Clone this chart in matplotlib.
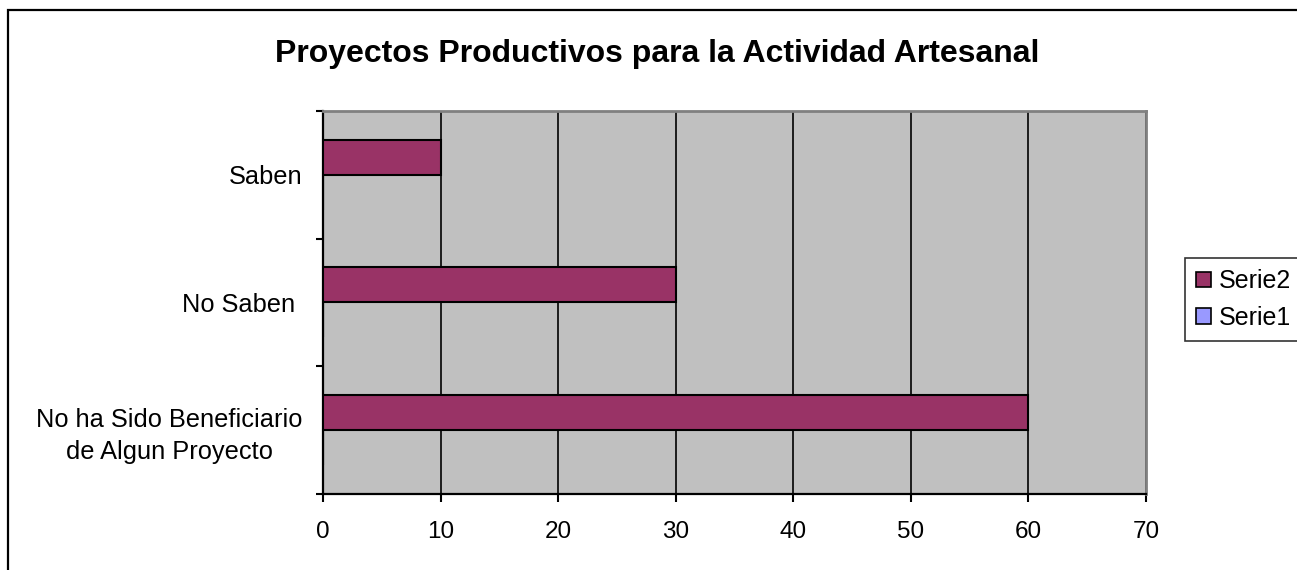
import matplotlib.pyplot as plt
from matplotlib.patches import Patch, Rectangle

plt.rcParams['font.family'] = ['Liberation Sans', 'DejaVu Sans']

# datos
categorias = ["No ha Sido Beneficiario\nde Algun Proyecto", "No Saben ", "Saben"]
serie1 = [0, 0, 0]
serie2 = [60, 30, 10]
ticks_x = [0, 10, 20, 30, 40, 50, 60, 70]

color_s1 = "#9999FF"
color_s2 = "#993366"

fig = plt.figure(figsize=(12.97, 5.70), dpi=100)

# borde del area del grafico
fig.patches.append(Rectangle((8 / 1297, -0.2), 1.5, 1.2 - 10 / 570,
                             transform=fig.transFigure, fill=False,
                             edgecolor="black", linewidth=1.6))

ax = fig.add_axes([323 / 1297, 1 - 493.5 / 570, 823 / 1297, 382.5 / 570])
ax.set_facecolor("#C0C0C0")

alto = 0.275
pos = list(range(len(categorias)))

ax.barh([p - alto / 2 for p in pos], serie1, height=alto, color=color_s1,
        edgecolor="black", linewidth=1.5, zorder=3)
ax.barh([p + alto / 2 for p in pos], serie2, height=alto, color=color_s2,
        edgecolor="black", linewidth=1.5, zorder=3)

ax.set_xlim(0, 70)
ax.set_ylim(-0.5, 2.5)
ax.set_xticks(ticks_x)
ax.set_xticklabels([str(t) for t in ticks_x], fontsize=17.5)
ax.xaxis.grid(True, color="black", linewidth=1.2, zorder=1)
ax.set_axisbelow(True)

# ticks del eje y en los limites de categoria, etiquetas en el centro
ax.set_yticks([-0.5, 0.5, 1.5, 2.5])
ax.set_yticklabels([])
ax.set_yticks(pos, minor=True)
ax.set_yticklabels(categorias, minor=True, fontsize=18.3,
                   multialignment="center", linespacing=1.4)
ax.tick_params(axis="y", which="minor", length=0, pad=15)
ax.tick_params(axis="y", which="major", length=5, width=1.5, direction="out")
ax.tick_params(axis="x", length=6, width=1.5, direction="out", pad=14)

for lado in ["top", "right"]:
    ax.spines[lado].set_color("#808080")
    ax.spines[lado].set_linewidth(2)
for lado in ["left", "bottom"]:
    ax.spines[lado].set_color("black")
    ax.spines[lado].set_linewidth(1.6)

fig.text(657 / 1297, 1 - 62 / 570, "Proyectos Productivos para la Actividad Artesanal",
         ha="center", va="baseline", fontsize=23, fontweight="bold")

handles = [Patch(facecolor=color_s2, edgecolor="black", linewidth=1.2, label="Serie2"),
           Patch(facecolor=color_s1, edgecolor="black", linewidth=1.2, label="Serie1")]
leg = fig.legend(handles=handles, loc="upper left",
                 bbox_to_anchor=(1185 / 1297, 1 - 258 / 570),
                 fontsize=18, frameon=True, fancybox=False,
                 handlelength=0.6, handleheight=0.6, handletextpad=0.3,
                 borderpad=0.45, labelspacing=0.5, borderaxespad=0)
leg.get_frame().set_edgecolor("black")
leg.get_frame().set_linewidth(1.2)

plt.savefig("out.png", dpi=100)
